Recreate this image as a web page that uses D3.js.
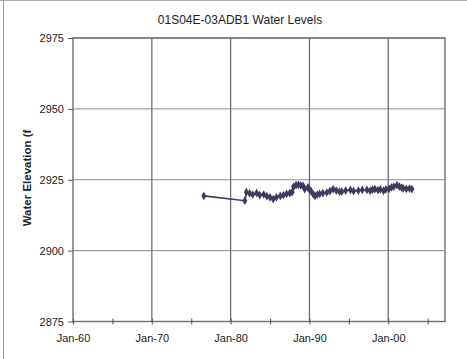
<!DOCTYPE html>
<html>
<head>
<meta charset="utf-8">
<script src="https://cdn.jsdelivr.net/npm/d3@7"></script>
<style>
  html, body { margin: 0; padding: 0; background: #fff; }
  svg { display: block; }
  text { font-family: "Liberation Sans", Arial, sans-serif; fill: #222; }
</style>
</head>
<body>
<script>
const title = "01S04E-03ADB1 Water Levels";
const yLabel = "Water Elevation (f";
const years = [1976.6, 1981.8, 1982.0, 1982.4, 1982.8, 1983.3, 1983.7, 1984.2, 1984.6, 1985.0,
  1985.4, 1985.8, 1986.3, 1986.7, 1987.1, 1987.5, 1987.8, 1988.0, 1988.3, 1988.6,
  1988.9, 1989.2, 1989.4, 1989.8, 1990.0, 1990.2, 1990.5, 1990.7, 1991.0, 1991.3,
  1991.7, 1992.2, 1992.6, 1993.0, 1993.4, 1993.8, 1994.1, 1994.6, 1995.2, 1995.6,
  1996.2, 1996.7, 1997.3, 1997.7, 1998.0, 1998.3, 1998.7, 1999.0, 1999.4, 1999.7,
  2000.1, 2000.4, 2000.7, 2001.1, 2001.4, 2001.7, 2001.9, 2002.3, 2002.7, 2003.0];
const levels = [2919.3, 2917.6, 2920.6, 2920.2, 2919.8, 2920.3, 2919.6, 2919.8, 2919.2, 2918.8,
  2918.2, 2918.8, 2919.3, 2919.6, 2920.0, 2920.3, 2920.6, 2922.6, 2923.1, 2923.2,
  2923.0, 2922.8, 2921.7, 2922.3, 2921.6, 2921.0, 2919.8, 2919.3, 2919.8, 2920.0,
  2920.3, 2920.5, 2921.0, 2921.7, 2921.2, 2920.8, 2920.8, 2921.2, 2921.4, 2921.0,
  2921.2, 2921.4, 2921.4, 2921.1, 2921.5, 2921.7, 2921.3, 2921.6, 2921.1, 2921.6,
  2921.8, 2922.3, 2922.6, 2923.1, 2922.6, 2922.2, 2922.0, 2921.8, 2921.9, 2921.7];
const yTicks = [2875, 2900, 2925, 2950, 2975];
const xMajorYears = [1960, 1970, 1980, 1990, 2000];
const xMinorYears = [1965, 1975, 1985, 1995, 2005];
const xDomainYears = [1960, 2007.2];

function toDate(y) {
  const yr = Math.floor(y);
  const start = new Date(yr, 0, 1), end = new Date(yr + 1, 0, 1);
  return new Date(start.getTime() + (y - yr) * (end - start));
}
const data = years.map((y, i) => ({ date: toDate(y), value: levels[i] }));

const W = 467, H = 359;
const m = { left: 73, right: 445, top: 38, bottom: 321.5 };
const svg = d3.select("body").append("svg").attr("width", W).attr("height", H);

// outer frame
svg.append("line").attr("x1", 3.5).attr("x2", 3.5).attr("y1", 0).attr("y2", H).attr("stroke", "#999").attr("stroke-width", 1);
svg.append("line").attr("x1", 0).attr("x2", W).attr("y1", 0.5).attr("y2", 0.5).attr("stroke", "#aaa").attr("stroke-width", 1);

const x = d3.scaleTime().domain(xDomainYears.map(toDate)).range([m.left, m.right]);
const y = d3.scaleLinear().domain([2875, 2975]).range([m.bottom, m.top]);

// gridlines
const grid = svg.append("g");
grid.selectAll(".hg").data(yTicks).join("line")
  .attr("x1", m.left).attr("x2", m.right)
  .attr("y1", d => y(d)).attr("y2", d => y(d))
  .attr("stroke", "#8a8a8a").attr("stroke-width", 1);
grid.selectAll(".vg").data(xMajorYears.slice(1)).join("line")
  .attr("x1", d => x(toDate(d))).attr("x2", d => x(toDate(d)))
  .attr("y1", m.top).attr("y2", m.bottom)
  .attr("stroke", "#6e6e6e").attr("stroke-width", 1.3);

// plot frame
svg.append("rect").attr("x", m.left).attr("y", m.top)
  .attr("width", m.right - m.left).attr("height", m.bottom - m.top)
  .attr("fill", "none").attr("stroke", "#6e6e6e").attr("stroke-width", 1.4);

// y axis
const yAxis = d3.axisLeft(y).tickValues(yTicks).tickSize(5).tickPadding(4).tickFormat(d3.format("d"));
const ga = svg.append("g").attr("transform", `translate(${m.left},0)`).call(yAxis);
ga.select(".domain").remove();
ga.selectAll("line").attr("stroke", "#555");
ga.selectAll("text").style("font-size", "11px").style("font-family", "Liberation Sans, Arial, sans-serif").attr("fill", "#333");

// x axis
const xAxis = d3.axisBottom(x).tickValues(xMajorYears.map(toDate)).tickSize(3).tickPadding(10)
  .tickFormat(d3.timeFormat("%b-%y"));
const gx = svg.append("g").attr("transform", `translate(0,${m.bottom})`).call(xAxis);
gx.select(".domain").remove();
gx.selectAll("line").attr("stroke", "#555").attr("y1", -3);
gx.selectAll("text").style("font-size", "11px").style("font-family", "Liberation Sans, Arial, sans-serif").attr("fill", "#333");
const gxm = svg.append("g").attr("transform", `translate(0,${m.bottom})`)
  .call(d3.axisBottom(x).tickValues(xMinorYears.map(toDate)).tickSize(3).tickFormat(""));
gxm.select(".domain").remove();
gxm.selectAll("line").attr("stroke", "#555").attr("y1", -3);

// title
svg.append("text").attr("x", 240).attr("y", 24).attr("text-anchor", "middle")
  .style("font-size", "12px").attr("fill", "#333").text(title);

// y label
svg.append("text").attr("transform", "translate(31,178) rotate(-90)").attr("text-anchor", "middle")
  .style("font-size", "11.5px").style("font-weight", "bold").attr("fill", "#333").text(yLabel);

// series
const col = "#3d3b5e";
svg.append("path").datum(data)
  .attr("d", d3.line().x(d => x(d.date)).y(d => y(d.value)))
  .attr("fill", "none").attr("stroke", col).attr("stroke-width", 1.6);
svg.selectAll(".pt").data(data).join("path")
  .attr("transform", d => `translate(${x(d.date)},${y(d.value)})`)
  .attr("d", d3.symbol().type(d3.symbolDiamond).size(22))
  .attr("fill", col);
</script>
</body>
</html>
